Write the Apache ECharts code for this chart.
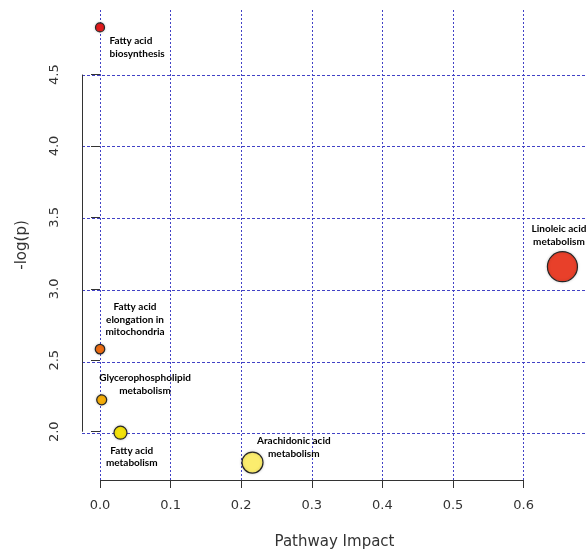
<!DOCTYPE html>
<html>
<head>
<meta charset="utf-8">
<script src="https://cdn.jsdelivr.net/npm/echarts@6/dist/echarts.min.js"></script>
<style>
  html, body { margin: 0; padding: 0; background: #ffffff; }
  #chart { width: 587px; height: 555px; }
</style>
</head>
<body>
<div id="chart"></div>
<script>
// Pathway names (label text shown next to each bubble)
const pathways = [
  'Fatty acid\nbiosynthesis',
  'Linoleic acid\nmetabolism',
  'Fatty acid\nelongation in\nmitochondria',
  'Glycerophospholipid\nmetabolism',
  'Fatty acid\nmetabolism',
  'Arachidonic acid\nmetabolism'
];
// Pathway impact (x) and -log(p) (y)
const impact  = [0.0, 0.655, 0.0, 0.0024, 0.029, 0.216];
const negLogP = [4.83, 3.155, 2.578, 2.223, 1.993, 1.784];

// Axis ticks
const xTicks = [0.0, 0.1, 0.2, 0.3, 0.4, 0.5, 0.6];
const yTicks = [2.0, 2.5, 3.0, 3.5, 4.0, 4.5];
const xStep = 0.1;
const yStep = 0.5;

// Plot region extents
const xLim = [-0.0255, 0.6898];
const yLim = [1.662, 4.952];

// Bubble appearance
const markerColor = ['#e41a1c', '#e8402a', '#ee6c12', '#f6ae0a', '#f3e20c', '#fbed6e'];
const markerSize  = [9, 30, 9.5, 10, 13, 21];
const labelPlacement = [
  { align: 'left',   dx: 9.5,  dy: 20 },
  { align: 'center', dx: -3.5, dy: -31.4 },
  { align: 'center', dx: 35,   dy: -29.5 },
  { align: 'center', dx: 43.3, dy: -15.7 },
  { align: 'center', dx: 11.3, dy: 24.2 },
  { align: 'center', dx: 41.3, dy: -15.3 }
];

// Plot frame in pixels
const W = 587, H = 555;
const plot = { left: 82, right: 0, top: 10, bottom: 73 };

const axisColor = '#333333';
const gridColor = '#4242c6';
const axisLineStyle = { color: axisColor, width: 1, type: 'solid', opacity: 1 };

// Helper grids: each one starts at a tick multiple below the plot edge, so
// its split lines fall on the main axis tick values (edge lines hidden).
const plotW = W - plot.left - plot.right;
const plotH = H - plot.top - plot.bottom;
const pxPerX = plotW / (xLim[1] - xLim[0]);
const pxPerY = plotH / (yLim[1] - yLim[0]);
const xGuideMin = Math.round(Math.floor(xLim[0] / xStep) * xStep * 1e6) / 1e6;
const yGuideMin = Math.round(Math.floor(yLim[0] / yStep) * yStep * 1e6) / 1e6;
const vGuideGrid = {
  top: plot.top, bottom: plot.bottom, right: plot.right,
  left: plot.left - (xLim[0] - xGuideMin) * pxPerX
};
const hGuideGrid = {
  left: plot.left, right: plot.right, top: plot.top,
  bottom: plot.bottom - (yLim[0] - yGuideMin) * pxPerY
};

const hiddenAxis = {
  axisLine: { show: false }, axisTick: { show: false },
  axisLabel: { show: false }, splitLine: { show: false }
};

const points = impact.map((x, i) => ({
  value: [x, negLogP[i]],
  name: pathways[i],
  symbolSize: markerSize[i],
  itemStyle: { color: markerColor[i], opacity: 1 },
  label: {
    align: labelPlacement[i].align,
    offset: [labelPlacement[i].dx, labelPlacement[i].dy]
  }
}));

const chart = echarts.init(document.getElementById('chart'), null, { renderer: 'canvas' });

chart.setOption({
  animation: false,
  backgroundColor: '#ffffff',
  grid: [
    Object.assign({ containLabel: false }, plot),
    Object.assign({ containLabel: false }, vGuideGrid),
    Object.assign({ containLabel: false }, hGuideGrid)
  ],
  xAxis: [
    {
      gridIndex: 0,
      type: 'value',
      min: xLim[0],
      max: xLim[1],
      name: 'Pathway Impact',
      nameLocation: 'middle',
      nameGap: 55,
      nameTextStyle: { fontFamily: 'DejaVu Sans', fontSize: 15, color: axisColor },
      axisLine: { show: false },
      splitLine: { show: false },
      axisTick: {
        show: true, customValues: xTicks, length: 8, inside: false,
        lineStyle: { color: axisColor, width: 1 }
      },
      axisLabel: {
        show: true, customValues: xTicks, margin: 19,
        fontFamily: 'DejaVu Sans', fontSize: 13, color: axisColor,
        formatter: v => v.toFixed(1)
      }
    },
    Object.assign({
      gridIndex: 1, type: 'value',
      min: xGuideMin, max: xLim[1], interval: xStep
    }, hiddenAxis, {
      splitLine: {
        show: true, showMinLine: false, showMaxLine: false,
        lineStyle: { color: gridColor, width: 1, type: [2, 2] }
      }
    }),
    Object.assign({ gridIndex: 2, type: 'value', min: 0, max: 1 }, hiddenAxis)
  ],
  yAxis: [
    {
      gridIndex: 0,
      type: 'value',
      min: yLim[0],
      max: yLim[1],
      name: '-log(p)',
      nameLocation: 'middle',
      nameGap: 52,
      nameRotate: 90,
      nameTextStyle: { fontFamily: 'DejaVu Sans', fontSize: 15, color: axisColor },
      axisLine: { show: false },
      splitLine: { show: false },
      axisTick: {
        show: true, customValues: yTicks, length: 9, inside: false,
        lineStyle: { color: axisColor, width: 1 }
      },
      axisLabel: {
        show: true, customValues: yTicks, margin: 21, rotate: 90,
        fontFamily: 'DejaVu Sans', fontSize: 13, color: axisColor,
        formatter: v => v.toFixed(1)
      }
    },
    Object.assign({ gridIndex: 1, type: 'value', min: 0, max: 1 }, hiddenAxis),
    Object.assign({
      gridIndex: 2, type: 'value',
      min: yGuideMin, max: yLim[1], interval: yStep
    }, hiddenAxis, {
      splitLine: {
        show: true, showMinLine: false, showMaxLine: false,
        lineStyle: { color: gridColor, width: 1, type: [3, 2] }
      }
    })
  ],
  series: [
    {
      // axis lines spanning first to last tick
      type: 'scatter',
      xAxisIndex: 0, yAxisIndex: 0,
      data: [],
      silent: true,
      z: 2,
      markLine: {
        silent: true,
        symbol: ['none', 'none'],
        label: { show: false },
        animation: false,
        lineStyle: axisLineStyle,
        emphasis: { disabled: true },
        data: [
          [{ coord: [xTicks[0], yLim[0]] }, { coord: [xTicks[xTicks.length - 1], yLim[0]] }],
          [{ coord: [xLim[0], yTicks[0]] }, { coord: [xLim[0], yTicks[yTicks.length - 1]] }]
        ]
      }
    },
    {
      type: 'scatter',
      xAxisIndex: 0, yAxisIndex: 0,
      z: 3,
      data: points,
      itemStyle: {
        opacity: 1,
        borderColor: '#262626',
        borderWidth: 1.2,
        shadowBlur: 3,
        shadowColor: 'rgba(0,0,0,0.18)'
      },
      label: {
        show: true,
        position: 'inside',
        formatter: p => p.name,
        fontFamily: 'Lato',
        fontWeight: 'bold',
        fontSize: 10,
        lineHeight: 12.6,
        color: '#000000',
        verticalAlign: 'middle'
      },
      emphasis: { disabled: true }
    }
  ]
});
</script>
</body>
</html>
